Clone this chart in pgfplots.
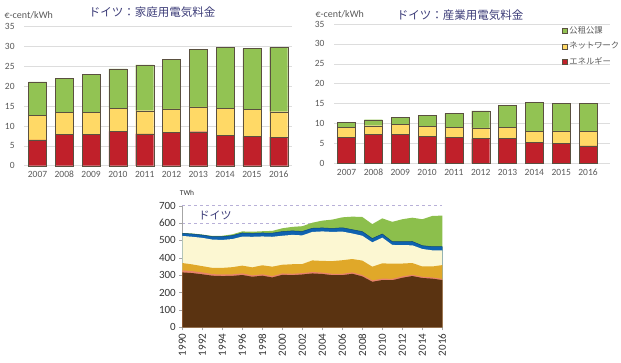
\documentclass[border=0pt]{standalone}
\usepackage{fontspec}
\setmainfont{Carlito}
\newfontfamily\cjk{Noto Sans CJK JP}
\usepackage{pgfplots}
\usepackage{pgfplotstable}
\pgfplotsset{compat=1.18}

\definecolor{bgreen}{HTML}{92C353}
\definecolor{byellow}{HTML}{FFD966}
\definecolor{bred}{HTML}{C0202A}
\definecolor{bedge}{HTML}{5A5040}
\definecolor{titlec}{HTML}{3C3C78}
\definecolor{tickc}{HTML}{595959}
\definecolor{gridc}{HTML}{DDDDDD}
\definecolor{coal}{HTML}{5A3311}
\definecolor{oil}{HTML}{E8836B}
\definecolor{gas}{HTML}{E0A829}
\definecolor{nuc}{HTML}{FCF7D2}
\definecolor{hydro}{HTML}{0F62B0}
\definecolor{renew}{HTML}{8CBF4C}
\definecolor{dgrid}{HTML}{B8B0D8}

% household price: energy, network, levies (ct/kWh)
\pgfplotstableread{
x energy network levy
0 6.5  6.1  8.5
1 7.9  5.45 8.65
2 7.9  5.6  9.5
3 8.65 5.8  9.95
4 8.0  5.85 11.55
5 8.4  5.9  12.5
6 8.55 6.25 14.5
7 7.65 6.75 15.4
8 7.4  6.8  15.3
9 7.2  6.4  16.2
}\household

% industrial price
\pgfplotstableread{
x energy network levy
0 6.6  2.45 1.25
1 7.35 2.1  1.5
2 7.2  2.6  1.75
3 6.85 2.45 2.75
4 6.6  2.5  3.45
5 6.2  2.7  4.25
6 6.2  2.9  5.45
7 5.2  2.9  7.2
8 5.0  3.15 6.9
9 4.4  3.55 7.1
}\industry

% generation, cumulative tops (TWh)
\pgfplotstableread{
year coal oil gas nuc hydro renew
1990 316 328 370 526 541 543
1991 312 323 362 521 537 540
1992 305 316 352 515 531 534
1993 297 306 342 505 522 526
1994 295 304 342 503 522 527
1995 296 305 346 508 528 535
1996 301 310 355 522 543 552
1997 291 299 345 521 541 550
1998 297 305 357 523 543 553
1999 287 295 349 521 542 555
2000 302 310 360 527 551 570
2001 300 308 363 532 555 578
2002 304 312 364 529 552 582
2003 310 318 385 549 570 602
2004 307 315 382 552 572 614
2005 300 308 381 549 569 620
2006 300 308 386 551 573 633
2007 308 316 393 540 562 637
2008 293 301 384 527 551 635
2009 262 270 349 489 511 594
2010 272 280 368 516 537 627
2011 271 279 366 474 493 607
2012 285 293 367 473 493 622
2013 295 302 370 472 494 631
2014 284 291 350 451 470 622
2015 280 287 350 443 464 641
2016 272 279 358 443 464 643
}\gen

\pgfplotsset{
  pricebars/.style={
    scale only axis,
    ybar stacked,
    bar width=18pt,
    ymin=0, ymax=35,
    ytick={0,5,...,35},
    xtick={0,...,9},
    xticklabels={2007,2008,2009,2010,2011,2012,2013,2014,2015,2016},
    ymajorgrids,
    grid style={gridc, line width=0.5pt},
    axis x line*=bottom,
    axis y line*=left,
    x axis line style={gridc, line width=0.6pt, -},
    y axis line style={draw=none},
    major tick length=0pt,
    tick label style={font=\fontsize{9.5}{10}\selectfont, text=tickc},
    /pgf/number format/assume math mode=true,
    xticklabel style={yshift=-2pt, text height=6.5pt, text depth=0pt, anchor=north},
    clip=false,
  },
  barstyle/.style={fill=#1, draw=bedge, line width=0.35pt},
}

\begin{document}
\begin{tikzpicture}[x=1pt,y=1pt]
\path[use as bounding box] (0,0) rectangle (621,363);

% ---------- household ----------
\begin{axis}[pricebars, at={(24.1pt,197.3pt)}, anchor=south west,
  width=268pt, height=139pt, xmin=-0.5, xmax=9.5,
  yticklabel style={xshift=-6pt}]
\addplot[barstyle=bred] table[x=x,y=energy]{\household};
\addplot[barstyle=byellow] table[x=x,y=network]{\household};
\addplot[barstyle=bgreen] table[x=x,y=levy]{\household};
\end{axis}
\node[anchor=west, font=\fontsize{10}{11}\selectfont, text=tickc] at (1,348) {€-cent/kWh};
\node[font=\cjk\fontsize{11.5}{12}\selectfont, text=titlec] at (152,351) {ドイツ：家庭用電気料金};

% ---------- industry ----------
\begin{axis}[pricebars, at={(334pt,199.7pt)}, anchor=south west,
  width=276pt, height=139.3pt, xmin=-0.47, xmax=9.82,
  yticklabel style={xshift=-6pt},
  legend style={draw=none, fill=none, at={(0.825,0.995)}, anchor=north west,
    font=\cjk\fontsize{8.3}{9}\selectfont, text=tickc, row sep=3pt,
    inner sep=0pt},
  legend cell align=left,
  reverse legend,
  legend image code/.code={\draw[#1, line width=0.35pt] (0pt,-2.6pt) rectangle (5.2pt,2.6pt);},
  ]
\addplot[barstyle=bred] table[x=x,y=energy]{\industry};
\addlegendentry{エネルギー}
\addplot[barstyle=byellow] table[x=x,y=network]{\industry};
\addlegendentry{ネットワーク}
\addplot[barstyle=bgreen] table[x=x,y=levy]{\industry};
\addlegendentry{公租公課}
\end{axis}
\node[anchor=west, font=\fontsize{10}{11}\selectfont, text=tickc] at (312,349) {€-cent/kWh};
\node[font=\cjk\fontsize{11.5}{12}\selectfont, text=titlec] at (460,348) {ドイツ：産業用電気料金};

% ---------- generation ----------
\begin{axis}[scale only axis, at={(182.3pt,35.7pt)}, anchor=south west,
  width=260pt, height=121.6pt,
  xmin=1990, xmax=2016, ymin=0, ymax=700,
  ytick={0,100,...,700},
  xtick={1990,1992,...,2016},
  ymajorgrids,
  grid style={dgrid, dashed, line width=0.6pt},
  axis x line*=bottom, axis y line*=left,
  axis line style={gray!70, line width=0.6pt, -},
  tick style={gray!70},
  major tick length=3pt,
  tick align=outside,
  tick label style={font=\fontsize{11}{12}\selectfont, text=black!80},
  /pgf/number format/assume math mode=true,
  /pgf/number format/1000 sep={},
  xticklabel style={rotate=90, anchor=east},
  ]
\addplot[fill=renew, draw=none] table[x=year,y=renew]{\gen} \closedcycle;
\addplot[fill=hydro, draw=hydro!70!black, line width=0.5pt] table[x=year,y=hydro]{\gen} \closedcycle;
\addplot[fill=nuc, draw=none] table[x=year,y=nuc]{\gen} \closedcycle;
\addplot[fill=gas, draw=none] table[x=year,y=gas]{\gen} \closedcycle;
\addplot[fill=oil, draw=none] table[x=year,y=oil]{\gen} \closedcycle;
\addplot[fill=coal, draw=none] table[x=year,y=coal]{\gen} \closedcycle;
\end{axis}
\node[font=\fontsize{7.5}{8}\selectfont, text=black!80] at (187,170) {TWh};
\node[font=\cjk\fontsize{11}{12}\selectfont, text=titlec] at (215,148) {ドイツ};
\end{tikzpicture}
\end{document}
